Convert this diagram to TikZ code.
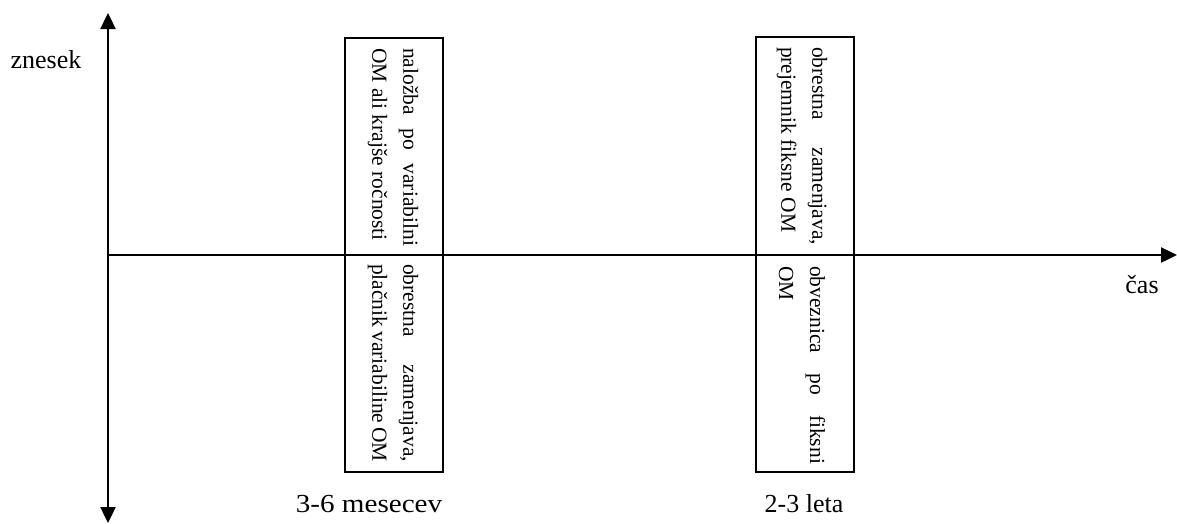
\documentclass[tikz,border=0pt]{standalone}
\usepackage{fontspec}
\setmainfont{Liberation Serif}
\usetikzlibrary{arrows.meta}
\begin{document}
\begin{tikzpicture}[x=1pt,y=-1pt,
  axis/.style={line width=2.4pt,-{Triangle[length=16pt,width=15pt]}},
  boxline/.style={line width=1.4pt},
  lbl/.style={font=\fontsize{26}{30}\selectfont,inner sep=0pt},
  vtext/.style={rotate=-90,inner sep=0pt,align=justify,text width=198pt,
    font=\fontsize{21.5}{31}\selectfont}]
\useasboundingbox (0,0) rectangle (1177,523);
% axes
\coordinate (origin) at (108,255);
\coordinate (ytop) at (108,13);
\coordinate (ybot) at (108,523);
\coordinate (xend) at (1177,255);
\draw[axis] (origin) -- (ytop);
\draw[axis] (origin) -- (ybot);
\draw[axis] (origin) -- (xend);
% boxes
\draw[boxline] (345,38) rectangle (443,472);
\draw[boxline] (756,37) rectangle (854,472);
% box texts
\node[vtext] (t1) at (393,147)
  {naložba po variabilni OM ali krajše ročnosti};
\node[vtext] (t2) at (393,363)
  {obrestna zamenjava, plačnik variabiline OM};
\node[vtext] (t3) at (802,146)
  {obrestna zamenjava, prejemnik fiksne OM};
\node[vtext] (t4) at (802,365)
  {obveznica po fiksni OM};
% labels
\node[lbl,anchor=base] (znesek) at (46,68) {znesek};
\node[lbl,anchor=base] (cas) at (1142,293) {čas};
\node[lbl,anchor=base,xscale=1.12] (m36) at (369,512) {3-6 mesecev};
\node[lbl,anchor=base] (l23) at (804,512) {2-3 leta};
\end{tikzpicture}
\end{document}
